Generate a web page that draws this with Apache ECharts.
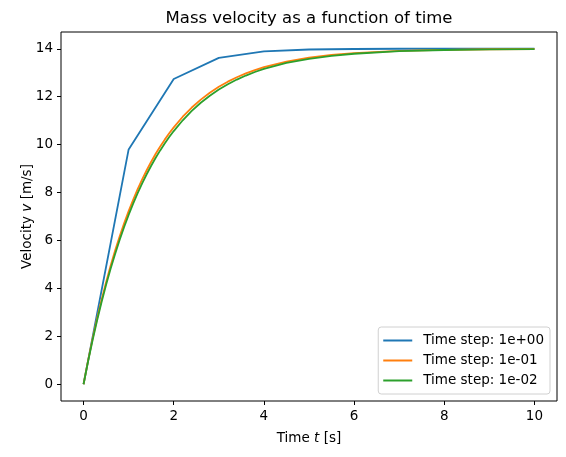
<!DOCTYPE html>
<html>
<head>
<meta charset="utf-8">
<script src="https://cdn.jsdelivr.net/npm/echarts@6/dist/echarts.min.js"></script>
<style>
html, body { margin: 0; padding: 0; background: #fff; }
#main { width: 566px; height: 457px; }
</style>
</head>
<body>
<div id="main"></div>
<script>
// time step 1 s
var timeCoarse = [0, 1, 2, 3, 4, 5, 6, 7, 8, 9, 10];
var velCoarse = [0, 9.8, 12.74, 13.62, 13.89, 13.97, 13.99, 14.0, 14.0, 14.0, 14.0];

// time step 0.1 s
var timeMid = [0, 0.1, 0.2, 0.3, 0.4, 0.5, 0.6, 0.7, 0.8, 0.9, 1.0, 1.1, 1.2, 1.3, 1.4, 1.5, 1.6, 1.7, 1.8, 1.9, 2.0,
	2.2, 2.4, 2.6, 2.8, 3.0, 3.2, 3.4, 3.6, 3.8, 4.0, 4.5, 5.0, 5.5, 6, 7, 8, 9, 10];
var velMid = [0, 0.98, 1.891, 2.739, 3.527, 4.260, 4.942, 5.576, 6.166, 6.714, 7.224, 7.699, 8.140, 8.550, 8.931, 9.286, 9.616, 9.923, 10.208, 10.474, 10.721,
	11.164, 11.547, 11.878, 12.165, 12.413, 12.627, 12.813, 12.973, 13.112, 13.232, 13.466, 13.628, 13.741, 13.820, 13.913, 13.958, 13.980, 13.990];

// time step 0.01 s
var timeFine = [0, 0.1, 0.2, 0.3, 0.4, 0.5, 0.6, 0.7, 0.8, 0.9, 1.0, 1.1, 1.2, 1.3, 1.4, 1.5, 1.6, 1.7, 1.8, 1.9, 2.0,
	2.2, 2.4, 2.6, 2.8, 3.0, 3.2, 3.4, 3.6, 3.8, 4.0, 4.5, 5.0, 5.5, 6, 7, 8, 9, 10];
var velFine = [0, 0.950, 1.835, 2.660, 3.429, 4.147, 4.815, 5.438, 6.019, 6.560, 7.065, 7.535, 7.974, 8.383, 8.764, 9.119, 9.450, 9.759, 10.046, 10.315, 10.565,
	11.015, 11.406, 11.746, 12.042, 12.298, 12.521, 12.715, 12.883, 13.030, 13.157, 13.407, 13.582, 13.706, 13.793, 13.898, 13.949, 13.975, 13.988];

var seriesNames = ['Time step: 1e+00', 'Time step: 1e-01', 'Time step: 1e-02'];
var xTicks = [0, 2, 4, 6, 8, 10];
var yTicks = [0, 2, 4, 6, 8, 10, 12, 14];

function pairs(xs, ys) {
	var out = [];
	for (var i = 0; i < xs.length; i++) {
		out.push([xs[i], ys[i]]);
	}
	return out;
}

var font = 'DejaVu Sans';
var fs = 13.5;
var myChart = echarts.init(document.getElementById('main'));

function lineSeries(name, xs, ys, color) {
	return {
		name: name,
		type: 'line',
		data: pairs(xs, ys),
		symbol: 'none',
		showSymbol: false,
		lineStyle: { color: color, width: 1.8 },
		itemStyle: { color: color }
	};
}

var option = {
	animation: false,
	textStyle: { fontFamily: font },
	title: {
		text: 'Mass velocity as a function of time',
		left: 309,
		textAlign: 'center',
		top: 10,
		padding: 0,
		textStyle: { fontFamily: font, fontSize: 16.5, fontWeight: 'normal', color: '#000' }
	},
	grid: {
		left: 61, right: 9, top: 32, bottom: 56,
		show: true, borderColor: '#000', borderWidth: 1
	},
	legend: {
		data: seriesNames,
		orient: 'vertical',
		right: 16,
		bottom: 63,
		icon: 'rect',
		itemWidth: 29,
		itemHeight: 2,
		itemGap: 5,
		padding: [6, 6, 6, 5],
		borderColor: '#d0d0d0',
		borderWidth: 1,
		borderRadius: 3,
		backgroundColor: 'rgba(255,255,255,0.8)',
		textStyle: { fontFamily: font, fontSize: fs, color: '#000', lineHeight: 15, padding: [0, 0, 0, 6] }
	},
	xAxis: {
		type: 'value',
		min: -0.5,
		max: 10.5,
		name: 'Time {i|t} [s]',
		nameLocation: 'middle',
		nameGap: 30,
		nameMoveOverlap: false,
		nameTextStyle: {
			fontFamily: font, fontSize: fs, color: '#000',
			rich: { i: { fontFamily: font, fontSize: fs, fontStyle: 'italic', color: '#000' } }
		},
		axisLine: { show: false, onZero: false },
		axisTick: { show: true, length: 4, lineStyle: { color: '#000' }, customValues: xTicks },
		axisLabel: { fontFamily: font, fontSize: fs, color: '#000', margin: 8, customValues: xTicks },
		splitLine: { show: false }
	},
	yAxis: {
		type: 'value',
		min: -0.7,
		max: 14.7,
		name: 'Velocity {i|v} [m/s]',
		nameLocation: 'middle',
		nameGap: 27,
		nameMoveOverlap: false,
		nameTextStyle: {
			fontFamily: font, fontSize: fs, color: '#000',
			rich: { i: { fontFamily: font, fontSize: fs, fontStyle: 'italic', color: '#000' } }
		},
		axisLine: { show: false, onZero: false },
		axisTick: { show: true, length: 4, lineStyle: { color: '#000' }, customValues: yTicks },
		axisLabel: { fontFamily: font, fontSize: fs, color: '#000', margin: 8, customValues: yTicks },
		splitLine: { show: false }
	},
	series: [
		lineSeries(seriesNames[0], timeCoarse, velCoarse, '#1f77b4'),
		lineSeries(seriesNames[1], timeMid, velMid, '#ff7f0e'),
		lineSeries(seriesNames[2], timeFine, velFine, '#2ca02c')
	]
};

myChart.setOption(option);
</script>
</body>
</html>
